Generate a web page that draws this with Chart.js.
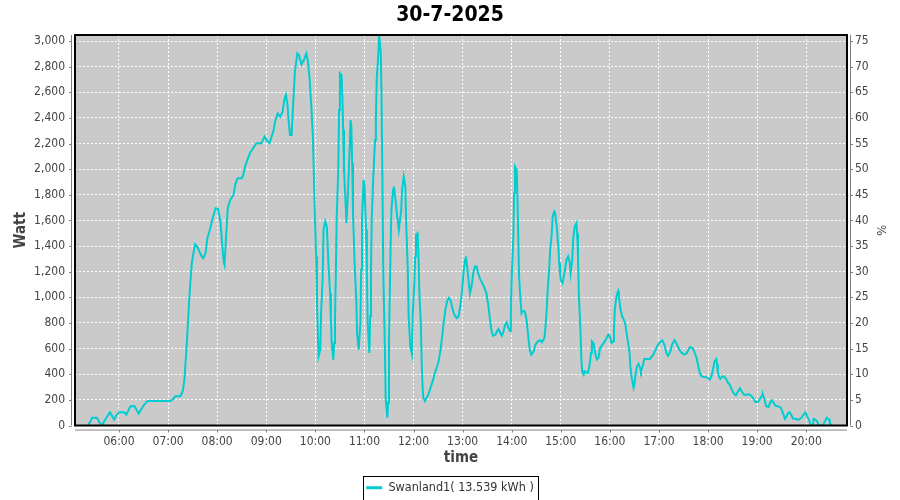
<!DOCTYPE html>
<html>
<head>
<meta charset="utf-8">
<script src="https://cdn.jsdelivr.net/npm/chart.js@4/dist/chart.umd.min.js"></script>
<style>
html,body{margin:0;padding:0;background:#ffffff;}
#wrap{width:900px;height:500px;position:relative;}
</style>
</head>
<body>
<div id="wrap"><canvas id="c" width="900" height="500"></canvas></div>
<script>
const chartTitle = "30-7-2025";
const seriesName = "Swanland1( 13.539 kWh )";
const xAxisTitle = "time";
const leftAxisTitle = "Watt";
const rightAxisTitle = "%";
const hourTicks = [6,7,8,9,10,11,12,13,14,15,16,17,18,19,20];

const times = [
"05:22","05:25","05:27","05:33","05:36","05:39","05:44","05:49","05:54","05:57",
"06:00","06:06","06:09","06:14","06:19","06:24","06:30","06:35","06:45","06:55",
"07:03","07:06","07:09","07:15","07:18","07:20","07:23","07:26","07:29","07:33",
"07:36","07:41","07:43","07:46","07:48","07:51","07:54","07:58","08:01","08:04",
"08:06","08:08","08:09","08:11","08:13","08:16","08:20","08:22","08:25","08:30",
"08:32","08:34","08:37","08:40","08:44","08:48","08:54","08:58","09:01","09:04",
"09:09","09:11","09:14","09:17","09:20","09:22","09:24","09:26","09:27","09:29",
"09:31","09:33","09:35","09:38","09:40","09:43","09:46","09:49","09:51","09:53",
"09:55","09:57","09:58","09:59","10:01","10:02","10:04","10:06","10:07","10:09",
"10:10","10:12","10:14","10:16","10:18","10:19","10:20","10:22","10:23","10:24",
"10:25","10:26","10:28","10:29","10:30","10:32","10:33","10:34","10:35","10:37",
"10:38","10:40","10:42","10:43","10:44","10:45","10:46","10:48","10:50","10:51",
"10:53","10:55","10:56","10:57","10:59","11:00","11:02","11:03","11:04","11:06",
"11:07","11:08","11:09","11:11","11:13","11:14","11:15","11:17","11:18","11:20",
"11:21","11:22","11:23","11:25","11:26","11:28","11:29","11:30","11:31","11:32",
"11:33","11:35","11:36","11:38","11:40","11:42","11:43","11:45","11:46","11:48",
"11:50","11:51","11:53","11:54","11:56","11:58","11:59","12:01","12:02","12:03",
"12:05","12:06","12:07","12:09","12:10","12:11","12:12","12:14","12:16","12:18",
"12:20","12:22","12:24","12:26","12:29","12:31","12:33","12:35","12:37","12:39",
"12:41","12:43","12:45","12:47","12:49","12:51","12:53","12:55","12:57","12:59",
"13:01","13:03","13:04","13:06","13:08","13:09","13:11","13:13","13:15","13:17",
"13:19","13:21","13:24","13:26","13:29","13:31","13:33","13:35","13:37","13:40",
"13:42","13:44","13:46","13:48","13:50","13:52","13:54","13:56","13:58","13:59",
"14:00","14:02","14:03","14:04","14:06","14:07","14:08","14:09","14:11","14:12",
"14:13","14:16","14:18","14:20","14:22","14:24","14:27","14:29","14:32","14:35",
"14:37","14:40","14:41","14:43","14:44","14:46","14:47","14:49","14:50","14:52",
"14:53","14:55","14:57","14:58","14:59","15:00","15:02","15:03","15:05","15:07",
"15:09","15:11","15:12","15:14","15:15","15:17","15:19","15:20","15:21","15:22",
"15:24","15:25","15:26","15:28","15:29","15:31","15:33","15:35","15:37","15:38",
"15:40","15:42","15:44","15:46","15:48","15:51","15:53","15:55","15:58","16:00",
"16:02","16:04","16:05","16:06","16:08","16:10","16:11","16:13","16:15","16:17",
"16:19","16:20","16:22","16:24","16:25","16:27","16:29","16:30","16:31","16:33",
"16:35","16:37","16:38","16:40","16:42","16:45","16:49","16:51","16:54","16:56",
"16:58","17:01","17:04","17:07","17:09","17:11","17:14","17:16","17:19","17:21",
"17:24","17:26","17:29","17:31","17:34","17:36","17:38","17:41","17:43","17:46",
"17:48","17:50","17:52","17:55","17:57","18:00","18:02","18:04","18:06","18:08",
"18:10","18:11","18:12","18:14","18:15","18:17","18:19","18:22","18:24","18:27",
"18:29","18:31","18:34","18:36","18:39","18:41","18:44","18:46","18:49","18:51",
"18:54","18:56","18:58","19:01","19:03","19:06","19:07","19:09","19:11","19:14",
"19:16","19:18","19:20","19:22","19:24","19:26","19:29","19:31","19:34","19:36",
"19:38","19:40","19:42","19:44","19:47","19:49","19:51","19:54","19:56","19:59",
"20:01","20:04","20:05","20:08","20:09","20:11","20:14","20:15","20:18","20:20",
"20:23","20:25","20:28","20:29","20:31"
];

const watts = [
0,30,60,60,25,0,55,104,47,80,
104,104,86,150,150,94,156,192,192,192,
192,205,228,228,270,360,650,1000,1270,1415,
1390,1319,1306,1350,1462,1527,1605,1696,1690,1592,
1423,1280,1254,1488,1696,1761,1800,1878,1930,1930,
1956,2020,2072,2124,2163,2202,2202,2254,2220,2202,
2306,2376,2436,2410,2449,2540,2579,2501,2397,2267,
2267,2527,2760,2903,2890,2818,2852,2903,2838,2700,
2500,2250,2000,1735,1319,956,540,592,878,1163,
1527,1592,1553,1267,1034,826,644,514,644,826,
1163,1605,1994,2462,2748,2735,2566,2306,1994,1735,
1579,1839,2176,2384,2332,2046,1657,1267,982,722,
592,800,1215,1605,1917,1865,1527,1189,800,566,
852,1215,1631,1969,2228,2410,2696,2903,3040,2903,
2514,1891,1215,592,203,60,177,644,1034,1397,
1683,1839,1865,1761,1631,1527,1579,1683,1839,1943,
1865,1579,1215,852,618,560,865,1111,1319,1488,
1501,1345,1060,774,488,306,216,190,216,241,
280,319,358,410,462,514,592,696,813,904,
969,995,982,930,878,852,839,852,930,1034,
1189,1293,1319,1215,1086,1034,1086,1189,1241,1241,
1189,1150,1111,1086,1034,956,852,748,701,709,
735,753,722,701,735,787,805,761,735,904,
1163,1475,1813,2020,1994,1787,1475,1163,956,878,
891,891,830,710,592,553,579,631,657,665,
649,683,748,930,1060,1241,1371,1501,1631,1670,
1657,1553,1397,1267,1189,1137,1111,1137,1215,1293,
1319,1267,1189,1293,1449,1553,1579,1501,1319,1034,
748,540,423,397,423,416,410,462,566,657,
644,566,514,527,605,631,649,670,709,696,
644,657,748,904,1008,1047,1008,904,852,826,
787,735,657,566,462,358,295,320,380,460,
480,449,423,462,519,519,519,535,566,592,
623,649,665,623,566,545,579,631,665,644,
605,579,561,553,566,592,613,605,579,527,
462,410,384,379,379,369,358,384,436,501,
519,475,410,371,364,379,384,364,338,312,
280,255,234,260,291,267,239,239,244,241,
223,203,184,184,203,234,241,203,151,145,
182,197,177,156,151,151,138,104,52,73,
99,104,78,52,52,47,47,60,78,104,
73,34,0,0,52,47,26,0,0,0,
34,60,47,16,0
];

const xMin = 5.104, xMax = 20.83;
const wattMax = 3047, pctMax = wattMax / 40;

function toHours(s){ const p = s.split(':'); return +p[0] + (+p[1]) / 60; }
const points = times.map((t, i) => ({ x: toHours(t), y: watts[i] }));

const LINE = '#00cdd0';
const TXT = '#444444';
const FONT = "'DejaVu Sans Condensed', 'Liberation Sans', sans-serif";

const framePlugin = {
  id: 'frame',
  beforeDraw(chart) {
    const a = chart.chartArea, ctx = chart.ctx;
    ctx.save();
    ctx.fillStyle = '#cacaca';
    ctx.fillRect(a.left, a.top, a.right - a.left, a.bottom - a.top);
    ctx.restore();
  },
  afterDraw(chart) {
    const a = chart.chartArea, ctx = chart.ctx;
    ctx.save();
    // plot border
    ctx.strokeStyle = '#000';
    ctx.lineWidth = 2;
    ctx.strokeRect(a.left, a.top, a.right - a.left, a.bottom - a.top);
    // offset axis lines + tick marks
    ctx.strokeStyle = '#808080';
    ctx.lineWidth = 1;
    ctx.beginPath();
    ctx.moveTo(a.left - 3.5, a.top); ctx.lineTo(a.left - 3.5, a.bottom);
    ctx.moveTo(a.right + 3.5, a.top); ctx.lineTo(a.right + 3.5, a.bottom);
    ctx.moveTo(a.left, a.bottom + 4.5); ctx.lineTo(a.right, a.bottom + 4.5);
    const y = chart.scales.y, x = chart.scales.x;
    y.ticks.forEach(t => {
      const py = Math.round(y.getPixelForValue(t.value)) + 0.5;
      ctx.moveTo(a.left - 6, py); ctx.lineTo(a.left - 3.5, py);
      ctx.moveTo(a.right + 3.5, py); ctx.lineTo(a.right + 6, py);
    });
    x.ticks.forEach(t => {
      const px = Math.round(x.getPixelForValue(t.value)) + 0.5;
      ctx.moveTo(px, a.bottom + 4.5); ctx.lineTo(px, a.bottom + 7);
    });
    ctx.stroke();
    // legend border
    const lg = chart.legend;
    if (lg && lg.legendHitBoxes && lg.legendHitBoxes.length) {
      const h = lg.legendHitBoxes[0];
      ctx.strokeStyle = '#000';
      ctx.lineWidth = 1;
      ctx.strokeRect(Math.round(h.left) - 2.5, Math.round(h.top) - 5.5, Math.round(h.width) + 7, Math.round(h.height) + 11);
    }
    ctx.restore();
  }
};

new Chart(document.getElementById('c'), {
  type: 'line',
  data: {
    datasets: [{
      label: seriesName,
      data: points,
      borderColor: LINE,
      backgroundColor: LINE,
      borderWidth: 2,
      pointRadius: 0,
      tension: 0,
      fill: false,
      yAxisID: 'y'
    }]
  },
  options: {
    responsive: false,
    animation: false,
    parsing: false,
    layout: { padding: { top: 0, left: 0, right: 0, bottom: -4 } },
    plugins: {
      title: {
        display: true,
        text: chartTitle,
        color: '#000',
        font: { family: FONT, size: 21, weight: 'bold' },
        padding: { top: 3, bottom: 6.8 }
      },
      legend: {
        display: true,
        position: 'bottom',
        labels: {
          color: '#333',
          font: { family: FONT, size: 12.5 },
          boxWidth: 16,
          boxHeight: 3,
          padding: 6,
          generateLabels(chart) {
            const items = Chart.defaults.plugins.legend.labels.generateLabels(chart);
            items.forEach(it => { it.lineWidth = 0; it.fillStyle = LINE; });
            return items;
          }
        }
      },
      tooltip: { enabled: false }
    },
    scales: {
      x: {
        type: 'linear',
        position: 'bottom',
        min: xMin,
        max: xMax,
        afterBuildTicks(s) { s.ticks = hourTicks.map(v => ({ value: v })); },
        afterFit(s) { s.height = 50; },
        ticks: {
          autoSkip: false,
          maxRotation: 0,
          padding: 9,
          color: TXT,
          font: { family: FONT, size: 12 },
          callback: v => String(v).padStart(2, '0') + ':00'
        },
        grid: { color: '#ffffff', lineWidth: 1, drawTicks: false },
        border: { display: false, dash: [2, 2] },
        title: {
          display: true,
          text: xAxisTitle,
          color: TXT,
          font: { family: FONT, size: 15, weight: 'bold' },
          padding: { top: 0, bottom: 8 }
        }
      },
      y: {
        type: 'linear',
        position: 'left',
        min: 0,
        max: wattMax,
        afterFit(s) { s.width = 75; },
        ticks: {
          stepSize: 200,
          includeBounds: false,
          padding: 10,
          color: TXT,
          font: { family: FONT, size: 12 }
        },
        grid: { color: '#ffffff', lineWidth: 1, drawTicks: false },
        border: { display: false, dash: [2, 2] },
        title: {
          display: true,
          text: leftAxisTitle,
          color: TXT,
          font: { family: FONT, size: 15, weight: 'bold' },
          padding: { top: 12, bottom: 0 }
        }
      },
      y2: {
        type: 'linear',
        position: 'right',
        min: 0,
        max: pctMax,
        afterFit(s) { s.width = 53; },
        ticks: {
          stepSize: 5,
          includeBounds: false,
          padding: 8,
          color: TXT,
          font: { family: FONT, size: 12 }
        },
        grid: { drawOnChartArea: false, drawTicks: false },
        border: { display: false },
        title: {
          display: true,
          text: rightAxisTitle,
          color: TXT,
          font: { family: FONT, size: 13 },
          padding: { top: 12, bottom: 0 }
        }
      }
    }
  },
  plugins: [framePlugin]
});
</script>
</body>
</html>
